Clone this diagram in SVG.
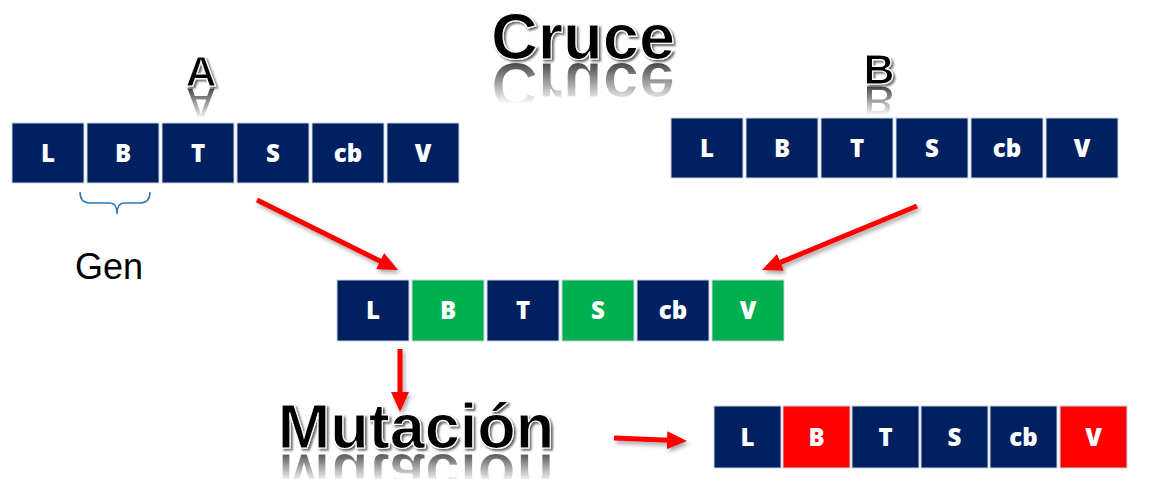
<svg xmlns="http://www.w3.org/2000/svg" xmlns:xlink="http://www.w3.org/1999/xlink" width="1166" height="479" viewBox="0 0 1166 479">
<style>
.cell{stroke:#c9d1e0;stroke-width:1}
.navy{fill:#002060}
.green{fill:#00B050}
.red{fill:#FF0000}
.ct{font-family:"Open Sans","Liberation Sans",sans-serif;font-weight:800;font-size:24px;fill:#fff;text-anchor:middle}
.title{font-family:"Liberation Sans",Arial,sans-serif;fill:#000;stroke:#fff;stroke-width:1.2;text-anchor:middle;font-weight:bold}
.arrow{stroke:#FF0000;stroke-width:5;fill:none;marker-end:url(#ah)}
</style>
<defs>
<marker id="ah" viewBox="0 0 20 18" markerWidth="20" markerHeight="18" refX="2" refY="9" orient="auto" markerUnits="userSpaceOnUse">
<path d="M0,0 L20,9 L0,18 z" fill="#FF0000"/>
</marker>
<filter id="ts" x="-10%" y="-10%" width="130%" height="140%">
<feGaussianBlur in="SourceAlpha" stdDeviation="1.2"/>
<feOffset dx="2" dy="2" result="b"/>
<feFlood flood-color="#000" flood-opacity="0.6"/>
<feComposite in2="b" operator="in"/>
<feMerge><feMergeNode/><feMergeNode in="SourceGraphic"/></feMerge>
</filter>
<filter id="as" x="-20%" y="-20%" width="140%" height="160%">
<feGaussianBlur in="SourceAlpha" stdDeviation="2"/>
<feOffset dx="2" dy="3" result="b"/>
<feFlood flood-color="#000" flood-opacity="0.35"/>
<feComposite in2="b" operator="in"/>
<feMerge><feMergeNode/><feMergeNode in="SourceGraphic"/></feMerge>
</filter>
<linearGradient id="fadeCruce" gradientUnits="userSpaceOnUse" x1="0" y1="61" x2="0" y2="104">
<stop offset="0" stop-color="#fff" stop-opacity="0.75"/>
<stop offset="1" stop-color="#fff" stop-opacity="0"/>
</linearGradient>
<linearGradient id="fadeA" gradientUnits="userSpaceOnUse" x1="0" y1="87" x2="0" y2="120">
<stop offset="0" stop-color="#fff" stop-opacity="0.75"/>
<stop offset="1" stop-color="#fff" stop-opacity="0"/>
</linearGradient>
<linearGradient id="fadeB" gradientUnits="userSpaceOnUse" x1="0" y1="85" x2="0" y2="116">
<stop offset="0" stop-color="#fff" stop-opacity="0.75"/>
<stop offset="1" stop-color="#fff" stop-opacity="0"/>
</linearGradient>
<linearGradient id="fadeM" gradientUnits="userSpaceOnUse" x1="0" y1="450" x2="0" y2="482">
<stop offset="0" stop-color="#fff" stop-opacity="0.75"/>
<stop offset="1" stop-color="#fff" stop-opacity="0"/>
</linearGradient>
<mask id="mC"><rect x="0" y="61" width="1166" height="50" fill="url(#fadeCruce)"/></mask>
<mask id="mA"><rect x="0" y="87" width="1166" height="40" fill="url(#fadeA)"/></mask>
<mask id="mB"><rect x="0" y="85" width="1166" height="40" fill="url(#fadeB)"/></mask>
<mask id="mM"><rect x="0" y="450" width="1166" height="40" fill="url(#fadeM)"/></mask>
<text id="tCruce" x="583" y="59" class="title" font-size="65">Cruce</text>
<text id="tA" x="201" y="86" class="title" font-size="43">A</text>
<text id="tB" x="879" y="84" class="title" font-size="43">B</text>
<text id="tM" x="416" y="448" class="title" font-size="63">Mutación</text>
</defs>

<g id="title-cruce">
<g mask="url(#mC)"><use xlink:href="#tCruce" transform="translate(0,122) scale(1,-1)" style="fill:#777"/></g>
<use xlink:href="#tCruce" filter="url(#ts)"/>
</g>
<g id="label-A">
<g mask="url(#mA)"><use xlink:href="#tA" transform="translate(0,174) scale(1,-1)" style="fill:#777"/></g>
<use xlink:href="#tA" filter="url(#ts)"/>
</g>
<g id="label-B">
<g mask="url(#mB)"><use xlink:href="#tB" transform="translate(0,170) scale(1,-1)" style="fill:#777"/></g>
<use xlink:href="#tB" filter="url(#ts)"/>
</g>
<g id="title-mutacion">
<g mask="url(#mM)"><use xlink:href="#tM" transform="translate(0,902) scale(1,-1)" style="fill:#777"/></g>
<use xlink:href="#tM" filter="url(#ts)"/>
</g>

<g id="chromosome-A">
<rect class="cell navy" x="12" y="123" width="72" height="60"/><text class="ct" x="48" y="162">L</text>
<rect class="cell navy" x="87" y="123" width="72" height="60"/><text class="ct" x="123" y="162">B</text>
<rect class="cell navy" x="162" y="123" width="72" height="60"/><text class="ct" x="198" y="162">T</text>
<rect class="cell navy" x="237" y="123" width="72" height="60"/><text class="ct" x="273" y="162">S</text>
<rect class="cell navy" x="312" y="123" width="72" height="60"/><text class="ct" x="348" y="162">cb</text>
<rect class="cell navy" x="387" y="123" width="72" height="60"/><text class="ct" x="423" y="162">V</text>
</g>

<g id="gen-brace">
<path d="M80,192 Q80,203 90,203 L110,203 Q117,203 117,214 Q117,203 124,203 L140,203 Q150,203 150,192" fill="none" stroke="#2E75B6" stroke-width="1.5"/>
<text x="109" y="279" font-family="Liberation Sans,Arial,sans-serif" font-size="36" fill="#000" text-anchor="middle">Gen</text>
</g>

<g id="chromosome-B">
<rect class="cell navy" x="671" y="118" width="72" height="60"/><text class="ct" x="707" y="157">L</text>
<rect class="cell navy" x="746" y="118" width="72" height="60"/><text class="ct" x="782" y="157">B</text>
<rect class="cell navy" x="821" y="118" width="72" height="60"/><text class="ct" x="857" y="157">T</text>
<rect class="cell navy" x="896" y="118" width="72" height="60"/><text class="ct" x="932" y="157">S</text>
<rect class="cell navy" x="971" y="118" width="72" height="60"/><text class="ct" x="1007" y="157">cb</text>
<rect class="cell navy" x="1046" y="118" width="72" height="60"/><text class="ct" x="1082" y="157">V</text>
</g>

<g id="chromosome-child">
<rect class="cell navy" x="337" y="280" width="72" height="61"/><text class="ct" x="373" y="319">L</text>
<rect class="cell green" x="412" y="280" width="72" height="61"/><text class="ct" x="448" y="319">B</text>
<rect class="cell navy" x="487" y="280" width="72" height="61"/><text class="ct" x="523" y="319">T</text>
<rect class="cell green" x="562" y="280" width="72" height="61"/><text class="ct" x="598" y="319">S</text>
<rect class="cell navy" x="637" y="280" width="72" height="61"/><text class="ct" x="673" y="319">cb</text>
<rect class="cell green" x="712" y="280" width="72" height="61"/><text class="ct" x="748" y="319">V</text>
</g>

<g id="chromosome-mutated">
<rect class="cell navy" x="714" y="406" width="67" height="62"/><text class="ct" x="747.5" y="446">L</text>
<rect class="cell red" x="783" y="406" width="67" height="62"/><text class="ct" x="816.5" y="446">B</text>
<rect class="cell navy" x="852" y="406" width="67" height="62"/><text class="ct" x="885.5" y="446">T</text>
<rect class="cell navy" x="921" y="406" width="67" height="62"/><text class="ct" x="954.5" y="446">S</text>
<rect class="cell navy" x="990" y="406" width="67" height="62"/><text class="ct" x="1023.5" y="446">cb</text>
<rect class="cell red" x="1060" y="406" width="67" height="62"/><text class="ct" x="1093.5" y="446">V</text>
</g>

<g id="connectors" filter="url(#as)">
<line class="arrow" x1="257" y1="200" x2="381.9" y2="262"/>
<line class="arrow" x1="917" y1="206" x2="778.6" y2="263.1"/>
<line class="arrow" x1="400" y1="349" x2="400" y2="394"/>
<line class="arrow" x1="614" y1="438" x2="669" y2="440.3"/>
</g>
</svg>
